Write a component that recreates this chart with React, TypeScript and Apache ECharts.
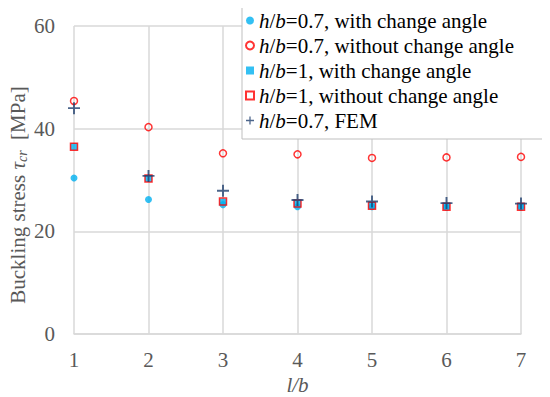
import React, { useEffect, useRef } from "react";
import * as echarts from "echarts";

const xValues = [1, 2, 3, 4, 5, 6, 7];
const h07With = [30.4, 26.2, 25.2, 24.8, 24.8, 24.7, 24.7];
const h07Without = [45.4, 40.3, 35.2, 35.0, 34.3, 34.4, 34.5];
const h1With = [36.5, 30.3, 25.7, 25.3, 25.0, 24.9, 24.9];
const h1Without = [36.5, 30.3, 25.8, 25.4, 25.0, 24.8, 24.8];
const h07Fem = [44.0, 30.8, 27.9, 26.1, 25.8, 25.5, 25.4];

const seriesNames = [
  "h/b=0.7, with change angle",
  "h/b=0.7, without change angle",
  "h/b=1, with change angle",
  "h/b=1, without change angle",
  "h/b=0.7, FEM",
];

const SERIF = "Liberation Serif";
const FS = 21;
const PLUS = "path://M4.2,0H5.8V4.2H10V5.8H5.8V10H4.2V5.8H0V4.2H4.2Z";

const pairs = (ys: number[]) => xValues.map((x, i) => [x, ys[i]]);

export default function App() {
  const ref = useRef<HTMLDivElement>(null);
  useEffect(() => {
    if (!ref.current) return;
    const chart = echarts.init(ref.current, null, { renderer: "svg" });
    chart.setOption({
      animation: false,
      backgroundColor: "#ffffff",
      textStyle: { fontFamily: SERIF },
      grid: { left: 74, right: 29, top: 26, bottom: 63, containLabel: false, outerBoundsMode: "none" },
      xAxis: {
        type: "value",
        min: 1,
        max: 7,
        interval: 1,
        name: "l/b",
        nameLocation: "middle",
        nameGap: 40,
        nameTextStyle: { fontFamily: SERIF, fontSize: FS, fontStyle: "italic", color: "#595959" },
        axisLine: { show: true, lineStyle: { color: "#d9d9d9", width: 1.5 } },
        axisTick: { show: false },
        axisLabel: { fontFamily: SERIF, fontSize: FS, color: "#595959", margin: 15 },
        splitLine: { show: true, lineStyle: { color: "#d9d9d9", width: 1.5 } },
      },
      yAxis: {
        type: "value",
        min: 0,
        max: 60,
        interval: 20,
        axisLine: { show: false },
        axisTick: { show: false },
        axisLabel: { fontFamily: SERIF, fontSize: FS, color: "#595959", margin: 19 },
        splitLine: { show: true, lineStyle: { color: "#d9d9d9", width: 1.5 } },
      },
      legend: {
        orient: "vertical",
        left: 242,
        top: 6,
        backgroundColor: "#ffffff",
        borderColor: "#bfbfbf",
        borderWidth: 1,
        padding: [4, 29, 8, 3],
        itemGap: 4,
        itemWidth: 8,
        itemHeight: 8,
        data: seriesNames,
        formatter: (name: string) => {
          const rest = name.slice(3);
          return "{i|h}{r|/}{i|b}{r|" + rest + "}";
        },
        textStyle: {
          fontFamily: SERIF,
          fontSize: FS,
          color: "#000000",
          rich: {
            i: { fontFamily: SERIF, fontSize: FS, fontStyle: "italic", color: "#000000" },
            r: { fontFamily: SERIF, fontSize: FS, fontStyle: "normal", color: "#000000" },
          },
        },
      },
      graphic: [
        {
          type: "text",
          x: 18,
          y: 195,
          rotation: Math.PI / 2,
          style: {
            text: "{r|Buckling stress }{t|τ}{s|cr}{r|  [MPa]}",
            fontFamily: SERIF,
            fontSize: FS,
            fill: "#595959",
            align: "center",
            verticalAlign: "middle",
            rich: {
              r: { fontFamily: SERIF, fontSize: FS, fontStyle: "normal", fill: "#595959" },
              t: { fontFamily: SERIF, fontSize: FS, fontStyle: "italic", fill: "#595959" },
              s: {
                fontFamily: SERIF,
                fontSize: 14,
                fontStyle: "italic",
                fill: "#595959",
                verticalAlign: "bottom",
                padding: [8, 0, 0, 0],
              },
            },
          },
        },
      ],
      series: [
        {
          name: seriesNames[0],
          type: "scatter",
          data: pairs(h07With),
          symbol: "circle",
          symbolSize: 7,
          itemStyle: { color: "#00b0f0" },
        },
        {
          name: seriesNames[1],
          type: "scatter",
          data: pairs(h07Without),
          symbol: "circle",
          symbolSize: 7,
          itemStyle: { color: "rgba(255,255,255,0)", borderColor: "#ff0000", borderWidth: 1.5 },
        },
        {
          name: seriesNames[2],
          type: "scatter",
          data: pairs(h1With),
          symbol: "rect",
          symbolSize: 7,
          itemStyle: { color: "#00b0f0" },
        },
        {
          name: seriesNames[3],
          type: "scatter",
          data: pairs(h1Without),
          symbol: "rect",
          symbolSize: 7,
          itemStyle: { color: "rgba(255,255,255,0)", borderColor: "#ff0000", borderWidth: 1.5 },
        },
        {
          name: seriesNames[4],
          type: "scatter",
          data: pairs(h07Fem),
          symbol: PLUS,
          symbolSize: 12,
          itemStyle: { color: "#1f3f6e" },
        },
      ],
    });
    return () => chart.dispose();
  }, []);
  return <div ref={ref} style={{ width: 550, height: 397, marginLeft: -8, marginTop: -8 }} />;
}
